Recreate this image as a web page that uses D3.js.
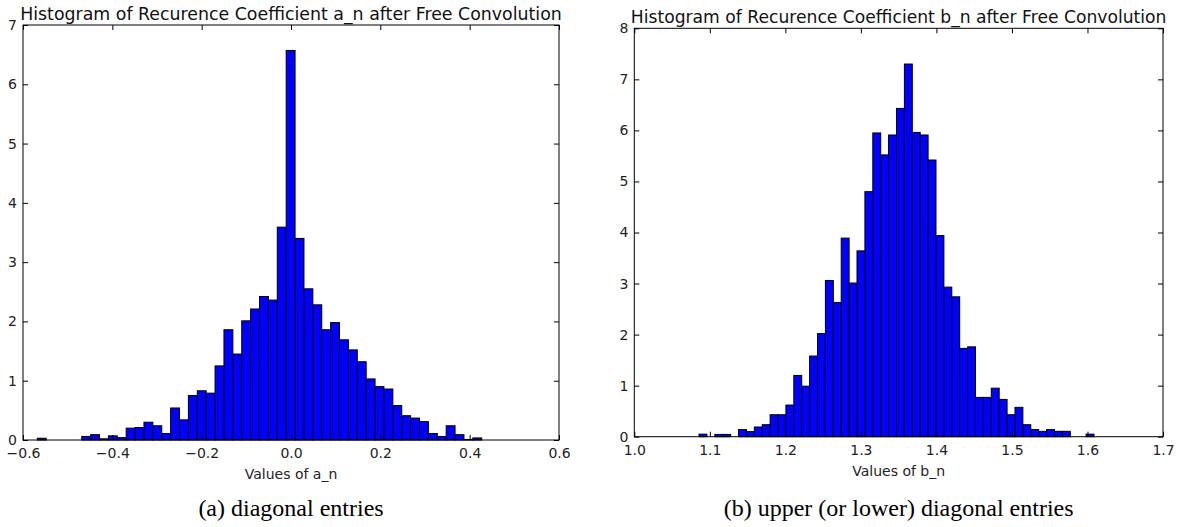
<!DOCTYPE html>
<html><head><meta charset="utf-8">
<script src="https://cdn.jsdelivr.net/npm/d3@7"></script>
<style>body{margin:0;background:#fff} svg{display:block}</style>
</head><body><svg id="c" width="1178" height="527"></svg>
<script>
// ---- data: panel (a) ----
const aTitle = "Histogram of Recurence Coefficient a_n after Free Convolution";
const aXLabel = "Values of a_n";
const aCaption = "(a) diagonal entries";
const aBinRange = [-0.568, 0.427];
const aValues = [0.03, 0, 0, 0, 0, 0.06, 0.09, 0.02, 0.07, 0.04,
                 0.20, 0.21, 0.30, 0.24, 0.11, 0.54, 0.34, 0.75, 0.83, 0.79,
                 1.25, 1.86, 1.45, 2.01, 2.21, 2.42, 2.36, 3.59, 6.57, 3.40,
                 2.55, 2.28, 1.86, 1.98, 1.69, 1.52, 1.32, 1.03, 0.90, 0.86,
                 0.58, 0.41, 0.37, 0.31, 0.11, 0.06, 0.24, 0.09, 0.01, 0.035];
const aXTicks = [-0.6, -0.4, -0.2, 0.0, 0.2, 0.4, 0.6];
const aYTicks = [0, 1, 2, 3, 4, 5, 6, 7];

// ---- data: panel (b) ----
const bTitle = "Histogram of Recurence Coefficient b_n after Free Convolution";
const bXLabel = "Values of b_n";
const bCaption = "(b) upper (or lower) diagonal entries";
const bBinRange = [1.0857, 1.6086];
const bValues = [0.05, 0, 0.045, 0.045, 0, 0.14, 0.10, 0.19, 0.235, 0.43,
                 0.43, 0.62, 1.20, 0.99, 1.58, 2.02, 3.06, 2.63, 3.89, 3.01,
                 3.64, 4.80, 5.95, 5.52, 5.91, 6.43, 7.30, 5.96, 5.91, 5.42,
                 3.94, 2.93, 2.74, 1.73, 1.76, 0.77, 0.77, 0.95, 0.73, 0.43,
                 0.575, 0.235, 0.14, 0.105, 0.14, 0.105, 0.105, 0, 0, 0.05];
const bXTicks = [1.0, 1.1, 1.2, 1.3, 1.4, 1.5, 1.6, 1.7];
const bYTicks = [0, 1, 2, 3, 4, 5, 6, 7, 8];

const svg = d3.select("#c");
const SANS = "'DejaVu Sans', sans-serif";

function panel(o) {
  const x = d3.scaleLinear().domain(o.xDomain).range([o.left, o.right]);
  const y = d3.scaleLinear().domain(o.yDomain).range([o.bottom, o.top]);
  const g = svg.append("g");
  const n = o.values.length;
  const w = (o.binRange[1] - o.binRange[0]) / n;
  const bins = o.values.map((v, i) => ({x0: o.binRange[0] + i * w, x1: o.binRange[0] + (i + 1) * w, v}));

  g.append("g").selectAll("rect").data(bins).join("rect")
    .attr("x", d => x(d.x0))
    .attr("width", d => x(d.x1) - x(d.x0))
    .attr("y", d => y(d.v))
    .attr("height", d => y(0) - y(d.v))
    .attr("fill", "#0000ff")
    .attr("stroke", "#000")
    .attr("stroke-width", 1);

  const fmtX = d3.format(".1f");
  const styleAxis = sel => {
    sel.select(".domain").remove();
    sel.selectAll("line").attr("stroke", "#000").attr("stroke-width", 1);
    sel.selectAll("text").attr("font-family", SANS).attr("font-size", 14).attr("fill", "#222");
  };
  g.append("g").attr("transform", `translate(0,${o.bottom})`)
    .call(d3.axisBottom(x).tickValues(o.xTicks).tickFormat(fmtX).tickSize(-5).tickPadding(8)).call(styleAxis);
  g.append("g").attr("transform", `translate(0,${o.top})`)
    .call(d3.axisTop(x).tickValues(o.xTicks).tickFormat("").tickSize(-5)).call(styleAxis);
  g.append("g").attr("transform", `translate(${o.left},0)`)
    .call(d3.axisLeft(y).tickValues(o.yTicks).tickFormat(d3.format("d")).tickSize(-5).tickPadding(6)).call(styleAxis);
  g.append("g").attr("transform", `translate(${o.right},0)`)
    .call(d3.axisRight(y).tickValues(o.yTicks).tickFormat("").tickSize(-5)).call(styleAxis);

  g.append("rect").attr("x", o.left).attr("y", o.top)
    .attr("width", o.right - o.left).attr("height", o.bottom - o.top)
    .attr("fill", "none").attr("stroke", "#000").attr("stroke-width", 1);

  const cx = (o.left + o.right) / 2;
  const t = g.append("text").attr("x", cx).attr("y", o.top - 5)
    .attr("text-anchor", "middle").attr("font-family", SANS).attr("font-size", 16)
    .attr("fill", "#111").text(o.title);
  const tw = t.node().getComputedTextLength();
  if (tw > 0) t.attr("font-size", 16 * o.titleWidth / tw);

  g.append("text").attr("x", cx).attr("y", o.bottom + 39)
    .attr("text-anchor", "middle").attr("font-family", SANS).attr("font-size", 14)
    .attr("fill", "#222").text(o.xLabel);

  g.append("text").attr("x", cx).attr("y", 516)
    .attr("text-anchor", "middle").attr("font-family", "'Liberation Serif', 'Times New Roman', serif")
    .attr("font-size", 24).attr("fill", "#000").text(o.caption);
}

panel({left: 23, right: 559, top: 25, bottom: 440,
       xDomain: [-0.6, 0.6], yDomain: [0, 7],
       binRange: aBinRange, values: aValues, xTicks: aXTicks, yTicks: aYTicks,
       title: aTitle, titleWidth: 542, xLabel: aXLabel, caption: aCaption});
panel({left: 634.3, right: 1163, top: 28.3, bottom: 436.7,
       xDomain: [1.0, 1.7], yDomain: [0, 8],
       binRange: bBinRange, values: bValues, xTicks: bXTicks, yTicks: bYTicks,
       title: bTitle, titleWidth: 536, xLabel: bXLabel, caption: bCaption});
</script></body></html>
